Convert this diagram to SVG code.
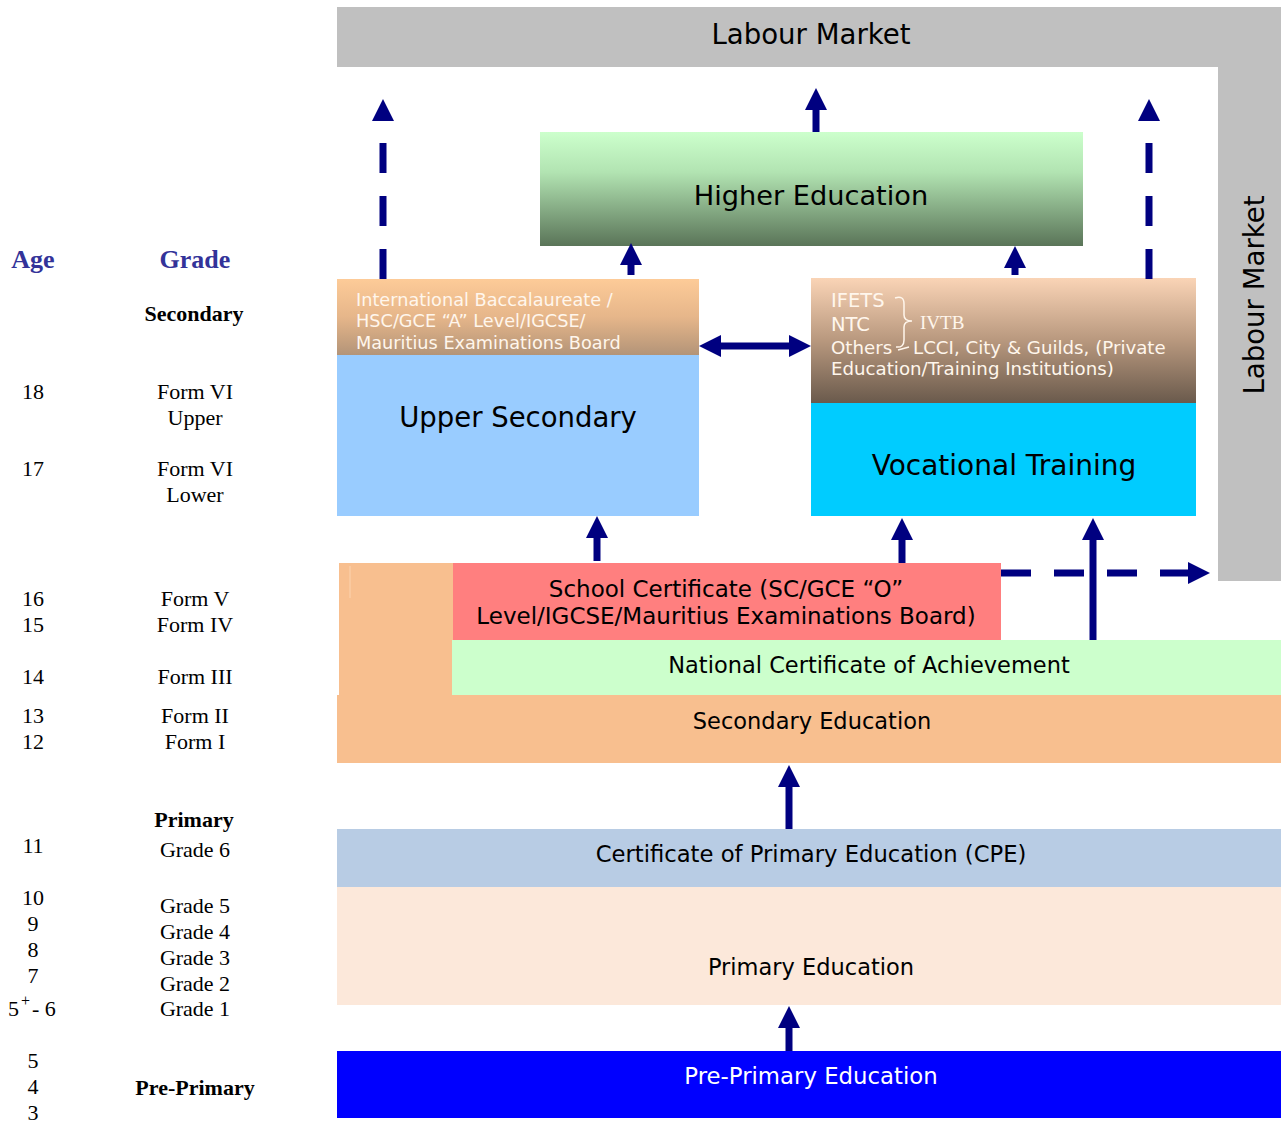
<svg xmlns="http://www.w3.org/2000/svg" width="1281" height="1123" viewBox="0 0 1281 1123">
<defs>
<linearGradient id="gHE" x1="0" y1="0" x2="0" y2="1"><stop offset="0" stop-color="#CCFFCC"/><stop offset="0.35" stop-color="#B2E4B2"/><stop offset="1" stop-color="#5A7458"/></linearGradient>
<linearGradient id="gUS" x1="0" y1="0" x2="0" y2="1"><stop offset="0" stop-color="#FDCB98"/><stop offset="0.5" stop-color="#E6B68A"/><stop offset="1" stop-color="#B39478"/></linearGradient>
<linearGradient id="gVT" x1="0" y1="0" x2="0" y2="1"><stop offset="0" stop-color="#FAD4B6"/><stop offset="0.5" stop-color="#B8987E"/><stop offset="1" stop-color="#6A5A4C"/></linearGradient>
<marker id="ah" markerUnits="userSpaceOnUse" markerWidth="22" markerHeight="22" viewBox="0 0 22 22" refX="0" refY="11" orient="auto-start-reverse"><path d="M0,0 L22,11 L0,22 z" fill="#000080"/></marker>
<style>
.d{font-family:"DejaVu Sans","Liberation Sans",sans-serif;fill:#000;text-anchor:middle}
.h{font-family:"DejaVu Sans","Liberation Sans",sans-serif;fill:#FFF6EC;font-size:17.7px}
.v{font-size:18.2px}
.s{font-family:"Liberation Serif","Times New Roman",serif;fill:#000;font-size:22px;text-anchor:middle}
.b{font-weight:bold}
.t{font-size:26px;fill:#333399}
.a{stroke:#000080;stroke-width:7;fill:none;marker-end:url(#ah)}
.ds{stroke-dasharray:30 23}
</style>
</defs>

<g id="labour-market">
<rect x="337" y="7" width="944" height="60" fill="#C0C0C0"/>
<rect x="1218" y="7" width="63" height="574" fill="#C0C0C0"/>
<text class="d" x="811" y="44" font-size="27.6">Labour Market</text>
<text class="d" x="0" y="0" font-size="27.6" transform="translate(1264,295) rotate(-90)">Labour Market</text>
</g>

<g id="higher-education">
<rect x="540" y="132" width="543" height="114" fill="url(#gHE)"/>
<text class="d" x="811" y="205" font-size="27.2">Higher Education</text>
</g>

<g id="upper-secondary">
<rect x="337" y="279" width="362" height="76" fill="url(#gUS)"/>
<rect x="337" y="355" width="362" height="161" fill="#99CCFF"/>
<text class="h" x="356" y="306">International Baccalaureate /</text>
<text class="h" x="356" y="327">HSC/GCE “A” Level/IGCSE/</text>
<text class="h" x="356" y="349">Mauritius Examinations Board</text>
<text class="d" x="518" y="427" font-size="27.5">Upper Secondary</text>
</g>

<g id="vocational-training">
<rect x="811" y="278" width="385" height="125" fill="url(#gVT)"/>
<rect x="811" y="403" width="385" height="113" fill="#00CCFF"/>
<text class="h v" x="831" y="307" font-size="19.5" style="font-size:19.5px">IFETS</text>
<text class="h v" x="831" y="331" font-size="19.5" style="font-size:19.5px">NTC</text>
<text class="h v" x="831" y="354">Others</text>
<text class="h v" x="913" y="354">LCCI, City &amp; Guilds, (Private</text>
<text class="h v" x="831" y="375">Education/Training Institutions)</text>
<path d="M895,298 Q904,295 904,304 L904,315 Q904,321 912,321 Q904,321 904,327 L904,340 Q904,348 896,347" fill="none" stroke="#FFF6EC" stroke-width="1.5"/>
<path d="M898,350 L909,347" fill="none" stroke="#FFF6EC" stroke-width="1.5"/>
<text x="920" y="329" font-family="Liberation Serif, serif" font-size="19" fill="#FFF6EC">IVTB</text>
<text class="d" x="1004" y="475" font-size="28">Vocational Training</text>
</g>

<g id="secondary-block">
<rect x="339" y="563" width="114" height="132" fill="#F8BF8F"/>
<line x1="350" y1="566" x2="350" y2="598" stroke="#FCD3AF" stroke-width="1"/>
</g>

<g id="school-certificate">
<rect x="453" y="563" width="548" height="77" fill="#FF7F7F"/>
<text class="d" x="726" y="597" font-size="23">School Certificate (SC/GCE “O”</text>
<text class="d" x="726" y="624" font-size="23">Level/IGCSE/Mauritius Examinations Board)</text>
</g>

<g id="national-certificate">
<rect x="452" y="640" width="829" height="55" fill="#CCFFCC"/>
<text class="d" x="869" y="673" font-size="22.5">National Certificate of Achievement</text>
</g>

<g id="secondary-education">
<rect x="337" y="695" width="944" height="68" fill="#F8BF8F"/>
<text class="d" x="812" y="729" font-size="22.5">Secondary Education</text>
</g>

<g id="cpe">
<rect x="337" y="829" width="944" height="58" fill="#B8CCE4"/>
<text class="d" x="811" y="862" font-size="22.7">Certificate of Primary Education (CPE)</text>
</g>

<g id="primary-education">
<rect x="337" y="887" width="944" height="118" fill="#FCE8DA"/>
<text class="d" x="811" y="975" font-size="22.5">Primary Education</text>
</g>

<g id="pre-primary-education">
<rect x="337" y="1051" width="944" height="67" fill="#0000FF"/>
<text class="d" x="811" y="1084" font-size="22.8" style="fill:#FFFFFF">Pre-Primary Education</text>
</g>

<g id="connectors">
<line class="a ds" x1="383" y1="279" x2="383" y2="121"/>
<line class="a ds" x1="1149" y1="279" x2="1149" y2="121"/>
<line class="a" x1="816" y1="132" x2="816" y2="110"/>
<line class="a" x1="631" y1="275" x2="631" y2="265"/>
<line class="a" x1="1015" y1="275" x2="1015" y2="268"/>
<line class="a" x1="721" y1="346" x2="789" y2="346" style="marker-start:url(#ah)"/>
<line class="a" x1="597" y1="561" x2="597" y2="538"/>
<line class="a" x1="902" y1="563" x2="902" y2="540"/>
<line class="a" x1="1093" y1="640" x2="1093" y2="540"/>
<line class="a ds" x1="1001" y1="573" x2="1188" y2="573"/>
<line class="a" x1="789" y1="829" x2="789" y2="787"/>
<line class="a" x1="789" y1="1051" x2="789" y2="1028"/>
</g>

<g id="age-grade-column">
<text class="s b t" x="33" y="268">Age</text>
<text class="s b t" x="195" y="268">Grade</text>
<text class="s b" x="194" y="321">Secondary</text>
<text class="s" x="33" y="399">18</text>
<text class="s" x="195" y="399">Form VI</text>
<text class="s" x="195" y="425">Upper</text>
<text class="s" x="33" y="476">17</text>
<text class="s" x="195" y="476">Form VI</text>
<text class="s" x="195" y="502">Lower</text>
<text class="s" x="33" y="606">16</text>
<text class="s" x="195" y="606">Form V</text>
<text class="s" x="33" y="632">15</text>
<text class="s" x="195" y="632">Form IV</text>
<text class="s" x="33" y="684">14</text>
<text class="s" x="195" y="684">Form III</text>
<text class="s" x="33" y="723">13</text>
<text class="s" x="195" y="723">Form II</text>
<text class="s" x="33" y="749">12</text>
<text class="s" x="195" y="749">Form I</text>
<text class="s b" x="194" y="827">Primary</text>
<text class="s" x="33" y="853">11</text>
<text class="s" x="195" y="857">Grade 6</text>
<text class="s" x="33" y="905">10</text>
<text class="s" x="195" y="913">Grade 5</text>
<text class="s" x="33" y="931">9</text>
<text class="s" x="195" y="939">Grade 4</text>
<text class="s" x="33" y="957">8</text>
<text class="s" x="195" y="965">Grade 3</text>
<text class="s" x="33" y="983">7</text>
<text class="s" x="195" y="991">Grade 2</text>
<text class="s" x="8" y="1016" text-anchor="start" style="text-anchor:start">5<tspan font-size="16" dx="2" dy="-10">+</tspan><tspan dx="2" dy="10">- 6</tspan></text>
<text class="s" x="195" y="1016">Grade 1</text>
<text class="s" x="33" y="1068">5</text>
<text class="s" x="33" y="1094">4</text>
<text class="s b" x="195" y="1095">Pre-Primary</text>
<text class="s" x="33" y="1120">3</text>
</g>
</svg>
